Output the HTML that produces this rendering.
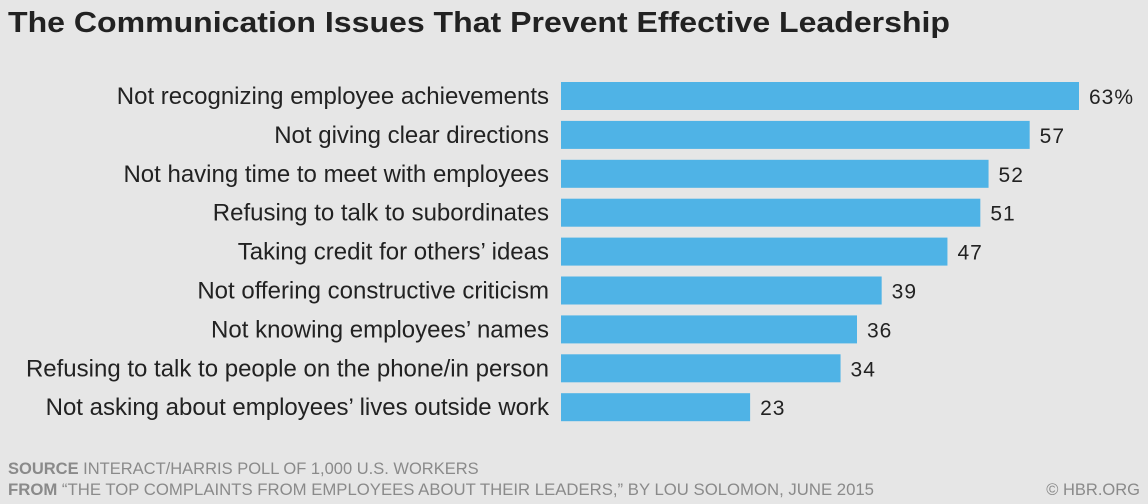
<!DOCTYPE html>
<html><head><meta charset="utf-8"><style>
body{margin:0;background:#e6e6e6;}
svg{display:block;font-family:"Liberation Sans",sans-serif;}
</style></head><body>
<svg width="1148" height="504" viewBox="0 0 1148 504">
<rect width="1148" height="504" fill="#e6e6e6"/>
<text x="8" y="32" font-size="29" font-weight="bold" fill="#222" textLength="942" lengthAdjust="spacingAndGlyphs">The Communication Issues That Prevent Effective Leadership</text>
<g id="bars"></g>
<text x="8" y="474" font-size="16.5" fill="#8a8a8a"><tspan font-weight="bold">SOURCE</tspan>  INTERACT/HARRIS POLL OF 1,000 U.S. WORKERS</text>
<text x="8" y="495" font-size="16.5" fill="#8a8a8a" textLength="866" lengthAdjust="spacingAndGlyphs"><tspan font-weight="bold">FROM</tspan>  “THE TOP COMPLAINTS FROM EMPLOYEES ABOUT THEIR LEADERS,” BY LOU SOLOMON, JUNE 2015</text>
<text x="1140" y="495" font-size="16.5" fill="#8a8a8a" text-anchor="end">© HBR.ORG</text>
</svg>
<script>
const categories=["Not recognizing employee achievements","Not giving clear directions","Not having time to meet with employees","Refusing to talk to subordinates","Taking credit for others’ ideas","Not offering constructive criticism","Not knowing employees’ names","Refusing to talk to people on the phone/in person","Not asking about employees’ lives outside work"];
const values=[63,57,52,51,47,39,36,34,23];
const valueLabels=["63%","57","52","51","47","39","36","34","23"];
const x0=561, pxPerUnit=(1079-561)/63;
const xScale=v=>x0+v*pxPerUnit;
const yScale=i=>96+i*38.9;
const ns="http://www.w3.org/2000/svg";
const g=document.getElementById('bars');
categories.forEach((c,i)=>{
  const cy=yScale(i);
  const r=document.createElementNS(ns,'rect');
  r.setAttribute('x',x0);r.setAttribute('y',cy-14);
  r.setAttribute('width',xScale(values[i])-x0);r.setAttribute('height',28);
  r.setAttribute('fill','#4fb3e6');
  
  
  g.appendChild(r);
  const t=document.createElementNS(ns,'text');
  t.setAttribute('x',549);t.setAttribute('y',cy+8);
  t.setAttribute('text-anchor','end');t.setAttribute('font-size','24');t.setAttribute('fill','#222');
  t.textContent=c;
  
  
  g.appendChild(t);
  const v=document.createElementNS(ns,'text');
  v.setAttribute('x',xScale(values[i])+10);v.setAttribute('y',cy+8);
  v.setAttribute('font-size','21');v.setAttribute('fill','#222');v.setAttribute('letter-spacing','1');
  v.textContent=valueLabels[i];
  
  
  g.appendChild(v);
});
</script>
</body></html>
